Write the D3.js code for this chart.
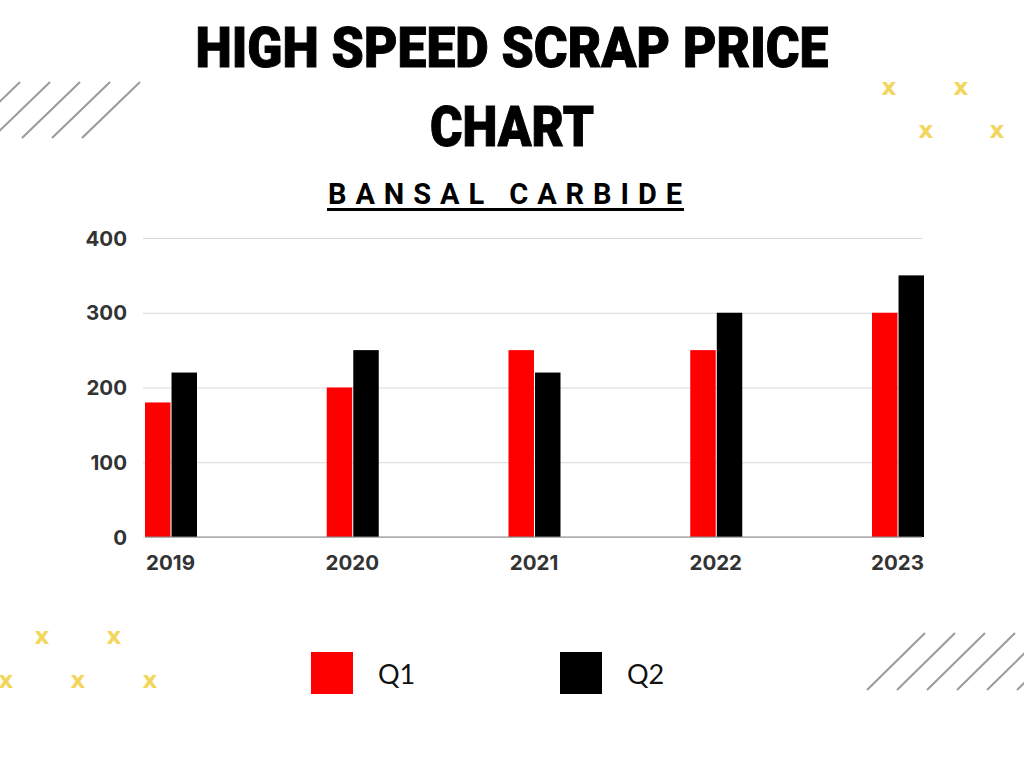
<!DOCTYPE html>
<html><head><meta charset="utf-8">
<script src="https://cdn.jsdelivr.net/npm/d3@7"></script>
<style>body{margin:0;background:#fff}svg{display:block}</style>
</head><body>
<svg id="c" width="1024" height="768"></svg>
<script>
const years = ["2019","2020","2021","2022","2023"];
const seriesNames = ["Q1","Q2"];
const q1 = [180,200,250,250,300];
const q2 = [220,250,220,300,350];
const yTicks = [0,100,200,300,400];
const colors = ["#ff0000","#000000"];

const svg = d3.select("#c");
const data = years.map((y,i)=>({year:y, vals:[q1[i],q2[i]]}));

// decorations
const deco = svg.append("g");
[20,50,80,110,140].forEach(x=>{
  deco.append("line").attr("x1",x).attr("y1",82).attr("x2",x-58).attr("y2",138)
    .attr("stroke","#9a9a9a").attr("stroke-width",2);
});
[867,897,927,957,987,1017].forEach(x=>{
  deco.append("line").attr("x1",x).attr("y1",690).attr("x2",x+58).attr("y2",633)
    .attr("stroke","#9a9a9a").attr("stroke-width",2);
});
const xs = [[889,88],[961,88],[926,131],[997,131],[42,637],[114,637],[6,681],[78,681],[150,681]];
xs.forEach(([x,y])=>{
  deco.append("text").attr("x",x).attr("y",y+7).attr("text-anchor","middle")
    .attr("font-family","DejaVu Sans").attr("font-weight","bold").attr("font-size",23)
    .attr("fill","#f3d65e").text("x");
});

// title
svg.append("text").attr("x",512).attr("y",67).attr("text-anchor","middle")
  .attr("font-family","Roboto").attr("font-weight",900).attr("font-size",56)
  .attr("stroke","#000").attr("stroke-width",1)
  .attr("textLength",633).attr("lengthAdjust","spacingAndGlyphs").text("HIGH SPEED SCRAP PRICE");
svg.append("text").attr("x",512).attr("y",146).attr("text-anchor","middle")
  .attr("font-family","Roboto").attr("font-weight",900).attr("font-size",56)
  .attr("stroke","#000").attr("stroke-width",1)
  .attr("textLength",164).attr("lengthAdjust","spacingAndGlyphs").text("CHART");
svg.append("text").attr("x",505).attr("y",204).attr("text-anchor","middle")
  .attr("font-family","Roboto").attr("font-weight",700).attr("font-size",29)
  .attr("textLength",354).attr("lengthAdjust","spacing").text("BANSAL CARBIDE");
svg.append("rect").attr("x",327).attr("y",208).attr("width",357).attr("height",3).attr("fill","#000");

// scales
const y = d3.scaleLinear().domain([0,400]).range([537,238]);
const x = d3.scalePoint().domain(years).range([170,897]);
const inner = d3.scaleBand().domain(seriesNames).range([-25,27]).paddingInner(0.04);

// grid
const gAxis = svg.append("g").attr("transform","translate(143,0)")
  .call(d3.axisLeft(y).tickValues(yTicks).tickSize(-779).tickPadding(16));
gAxis.select(".domain").remove();
gAxis.selectAll(".tick line").attr("stroke","#d9d9d9").attr("stroke-width",1.2);
gAxis.selectAll(".tick text").attr("font-family","Inter").attr("font-weight",700)
  .attr("font-size",20.5).attr("fill","#333").attr("dy","0.35em");

// bars
const groups = svg.append("g").selectAll("g").data(data).join("g")
  .attr("transform",d=>`translate(${x(d.year)},0)`);
groups.selectAll("rect").data(d=>d.vals.map((v,i)=>({v,i}))).join("rect")
  .attr("x",d=>inner(seriesNames[d.i])).attr("width",inner.bandwidth())
  .attr("y",d=>y(d.v)).attr("height",d=>y(0)-y(d.v)).attr("fill",d=>colors[d.i]);

// baseline axis
const gx = svg.append("g").attr("transform","translate(0,537)")
  .call(d3.axisBottom(x).tickSize(0).tickPadding(18));
gx.select(".domain").attr("d","M145,0H922").attr("stroke","#888").attr("stroke-width",1.2);
gx.selectAll(".tick text").attr("font-family","Inter").attr("font-weight",700)
  .attr("font-size",20.5).attr("fill","#333").attr("dy","0.71em");

// legend
const leg = svg.append("g");
const lx = [311,560];
seriesNames.forEach((s,i)=>{
  leg.append("rect").attr("x",lx[i]).attr("y",652).attr("width",42).attr("height",42).attr("fill",colors[i]);
  leg.append("text").attr("x",lx[i]+67).attr("y",684).attr("font-family","Lato")
    .attr("font-size",27).attr("fill","#111").text(s);
});
</script>
</body></html>
